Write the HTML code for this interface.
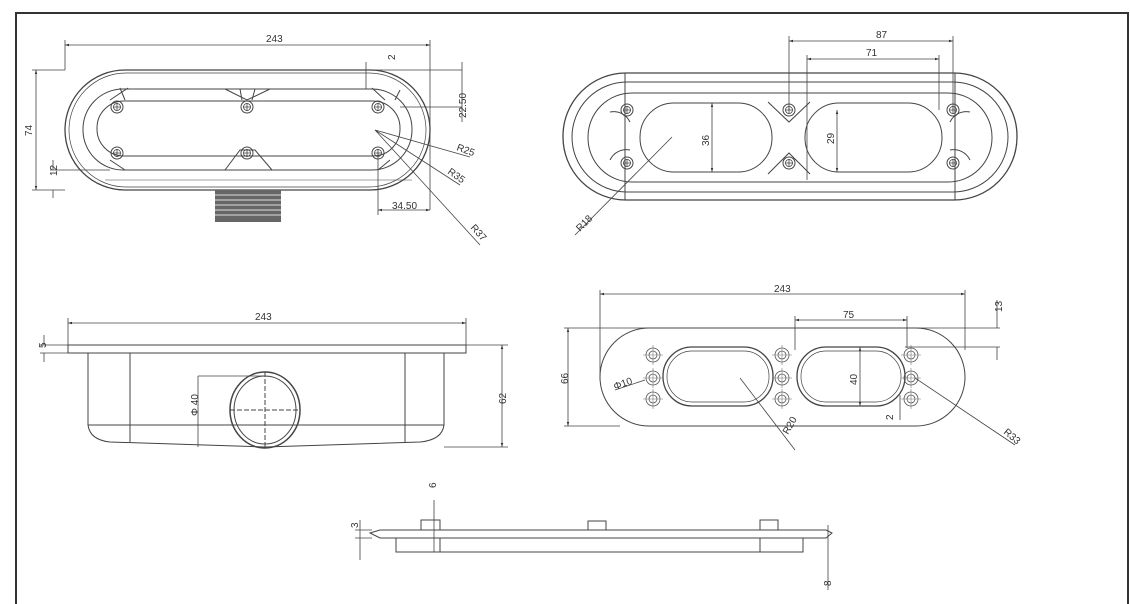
<!DOCTYPE html>
<html><head><meta charset="utf-8"><style>
html,body{margin:0;padding:0;background:#fff}
svg{display:block}
text{font-family:"Liberation Sans",sans-serif;font-size:10px;fill:#333}
</style></head><body>
<svg width="1130" height="604" viewBox="0 0 1130 604" xmlns="http://www.w3.org/2000/svg">
<defs>
<marker id="a" viewBox="0 0 10 10" refX="10" refY="5" markerWidth="7" markerHeight="5" orient="auto-start-reverse"><path d="M0,2 L10,5 L0,8z" fill="#333"/></marker>
<g id="h"><circle r="6" fill="none" stroke="#444"/><circle r="3.5" fill="none" stroke="#444" stroke-width=".8"/><path d="M-4,0H4M0,-4V4" stroke="#444" stroke-width=".8"/></g>
<g id="hp"><circle r="7" fill="none" stroke="#555" stroke-width=".8"/><circle r="4" fill="none" stroke="#555" stroke-width=".8"/><path d="M-10,0H10M0,-10V10" stroke="#777" stroke-width=".6"/></g>
</defs>
<rect x="16" y="13" width="1112" height="600" fill="none" stroke="#333" stroke-width="2"/>
<g fill="none" stroke="#444" stroke-width="1">
<!-- View 1 -->
<rect x="65" y="70" width="365" height="120" rx="60" stroke-width="1.3"/>
<rect x="69" y="73" width="357" height="114" rx="57" stroke-width=".7"/>
<rect x="83" y="89" width="329" height="81" rx="40"/>
<rect x="97" y="101" width="303" height="55" rx="27"/>
<path d="M110,100 L128,88 M125,100 L120,88 M225,89 L247,100 L270,89 M240,89 L242,100 M255,89 L252,100 M385,100 L372,88 M395,100 L400,90 M225,170 L240,150 L255,150 L272,170 M110,160 L125,170 M390,160 L378,170"/>
<g stroke-width=".5"><path d="M105,180 L412,180"/></g>
</g>
<use href="#h" x="117" y="107"/><use href="#h" x="247" y="107"/><use href="#h" x="378" y="107"/>
<use href="#h" x="117" y="153"/><use href="#h" x="247" y="153"/><use href="#h" x="378" y="153"/>
<rect x="215" y="190" width="66" height="32" fill="#666"/>
<g stroke="#ddd" stroke-width="1"><path d="M215,195H281M215,200H281M215,205H281M215,210H281M215,215H281"/></g>
<g fill="none" stroke="#444" stroke-width=".8">
<path d="M65,45H430" marker-start="url(#a)" marker-end="url(#a)"/>
<path d="M65,40V70M430,40V210"/>
<path d="M36,70V190" marker-start="url(#a)" marker-end="url(#a)"/>
<path d="M32,70H65M32,190H65M50,170H110"/>
<path d="M53,160V170M53,190V198"/>
<path d="M462,62V122M400,107H462M360,70H462"/>
<path d="M378,210H430" marker-start="url(#a)" marker-end="url(#a)"/>
<path d="M378,153V215"/>
<path d="M366,62V89"/>
<path d="M375,130L470,157M375,130L460,185M375,130L480,245"/>
</g>
<text x="266" y="42">243</text>
<text transform="translate(32,136) rotate(-90)">74</text>
<text transform="translate(57,176) rotate(-90)">12</text>
<text transform="translate(395,60) rotate(-90)">2</text>
<text transform="translate(466,118) rotate(-90)">22.50</text>
<text x="392" y="209">34.50</text>
<text transform="translate(456,150) rotate(20)">R25</text>
<text transform="translate(447,173) rotate(35)">R35</text>
<text transform="translate(470,228) rotate(48)">R37</text>

<!-- View 2 -->
<g fill="none" stroke="#444" stroke-width="1">
<rect x="563" y="73" width="454" height="127" rx="63" stroke-width="1.3"/>
<rect x="572" y="82" width="436" height="110" rx="55"/>
<rect x="588" y="93" width="404" height="89" rx="44"/>
<path d="M625,73V200M955,73V200"/>
<rect x="640" y="103" width="132" height="69" rx="34"/>
<rect x="805" y="103" width="137" height="69" rx="34"/>
<path d="M610,112 A18,18 0 0 1 630,122 M610,160 A18,18 0 0 1 630,150 M970,112 A18,18 0 0 0 950,122 M970,160 A18,18 0 0 0 950,150"/>
<path d="M768,102 L789,122 L810,102 M768,174 L789,153 L810,174" />
</g>
<use href="#h" x="627" y="110"/><use href="#h" x="789" y="110"/><use href="#h" x="953" y="110"/>
<use href="#h" x="627" y="163"/><use href="#h" x="789" y="163"/><use href="#h" x="953" y="163"/>
<g fill="none" stroke="#444" stroke-width=".8">
<path d="M789,41H953" marker-start="url(#a)" marker-end="url(#a)"/>
<path d="M807,59H939" marker-start="url(#a)" marker-end="url(#a)"/>
<path d="M789,36V110M953,36V110M807,55V180M939,55V110"/>
<path d="M712,103V172" marker-start="url(#a)" marker-end="url(#a)"/>
<path d="M837,110V172" marker-start="url(#a)" marker-end="url(#a)"/>
<path d="M672,137L575,235"/>
</g>
<text x="876" y="38">87</text>
<text x="866" y="56">71</text>
<text transform="translate(709,146) rotate(-90)">36</text>
<text transform="translate(834,144) rotate(-90)">29</text>
<text transform="translate(580,232) rotate(-45)">R18</text>

<!-- View 3 -->
<g fill="none" stroke="#444" stroke-width="1">
<rect x="68" y="345" width="398" height="8"/>
<path d="M88,353V425Q90,440 110,442L265,447L420,442Q442,440 444,425V353"/>
<path d="M88,425H444M130,353V442M405,353V442"/>
<ellipse cx="265" cy="410" rx="35" ry="38" stroke-width="1.5"/>
<ellipse cx="265" cy="410" rx="31" ry="34"/>
<path d="M265,372V448M230,410H300" stroke-dasharray="5,2"/>
</g>
<g fill="none" stroke="#444" stroke-width=".8">
<path d="M68,323H466" marker-start="url(#a)" marker-end="url(#a)"/>
<path d="M68,318V345M466,318V345"/>
<path d="M502,345V447" marker-start="url(#a)" marker-end="url(#a)"/>
<path d="M466,345H508M444,447H508"/>
<path d="M198,376V447M198,376H265"/>
<path d="M44,335V345M44,353V362M40,345H68M40,353H68"/>
</g>
<text x="255" y="320">243</text>
<text transform="translate(198,416) rotate(-90)">Φ 40</text>
<text transform="translate(506,404) rotate(-90)">62</text>
<text transform="translate(46,348) rotate(-90)">5</text>

<!-- View 4 -->
<g fill="none" stroke="#444" stroke-width="1">
<rect x="600" y="328" width="365" height="98" rx="49"/>
<rect x="663" y="347" width="110" height="59" rx="29" stroke-width="1.3"/>
<rect x="667" y="351" width="102" height="51" rx="25" stroke-width=".7"/>
<rect x="797" y="347" width="108" height="59" rx="29" stroke-width="1.3"/>
<rect x="801" y="351" width="100" height="51" rx="25" stroke-width=".7"/>
</g>
<use href="#hp" x="653" y="355"/><use href="#hp" x="653" y="378"/><use href="#hp" x="653" y="399"/>
<use href="#hp" x="782" y="355"/><use href="#hp" x="782" y="378"/><use href="#hp" x="782" y="399"/>
<use href="#hp" x="911" y="355"/><use href="#hp" x="911" y="378"/><use href="#hp" x="911" y="399"/>
<g fill="none" stroke="#444" stroke-width=".8">
<path d="M600,294H965" marker-start="url(#a)" marker-end="url(#a)"/>
<path d="M600,290V380M965,290V350"/>
<path d="M795,320H907" marker-start="url(#a)" marker-end="url(#a)"/>
<path d="M795,316V350M907,316V348"/>
<path d="M568,328V426" marker-start="url(#a)" marker-end="url(#a)"/>
<path d="M564,328H1000M564,426H620M905,347H1000"/>
<path d="M997,300V328M997,347V360"/>
<path d="M860,347V406" marker-start="url(#a)" marker-end="url(#a)"/>
<path d="M740,378L795,450M915,378L1015,445M615,390L645,380"/>
<path d="M900,395V420"/>
</g>
<text x="774" y="292">243</text>
<text x="843" y="318">75</text>
<text transform="translate(568,384) rotate(-90)">66</text>
<text transform="translate(1002,312) rotate(-90)">13</text>
<text transform="translate(857,385) rotate(-90)">40</text>
<text transform="translate(893,420) rotate(-90)">2</text>
<text transform="translate(615,390) rotate(-20)">Φ10</text>
<text transform="translate(788,435) rotate(-60)">R20</text>
<text transform="translate(1003,433) rotate(40)">R33</text>

<!-- View 5 -->
<g fill="none" stroke="#444" stroke-width="1">
<path d="M370,533L380,530H826L832,533L826,538H380Z"/>
<rect x="396" y="538" width="407" height="14"/>
<rect x="421" y="520" width="19" height="10"/>
<rect x="588" y="521" width="18" height="9"/>
<rect x="760" y="520" width="18" height="10"/>
<path d="M440,538V552M760,538V552"/>
</g>
<g fill="none" stroke="#444" stroke-width=".8">
<path d="M434,500V552M828,525V590M360,520V560M355,530H372M355,538H372"/>
</g>
<text transform="translate(436,488) rotate(-90)">6</text>
<text transform="translate(358,528) rotate(-90)">3</text>
<text transform="translate(831,586) rotate(-90)">8</text>
</svg>
</body></html>
